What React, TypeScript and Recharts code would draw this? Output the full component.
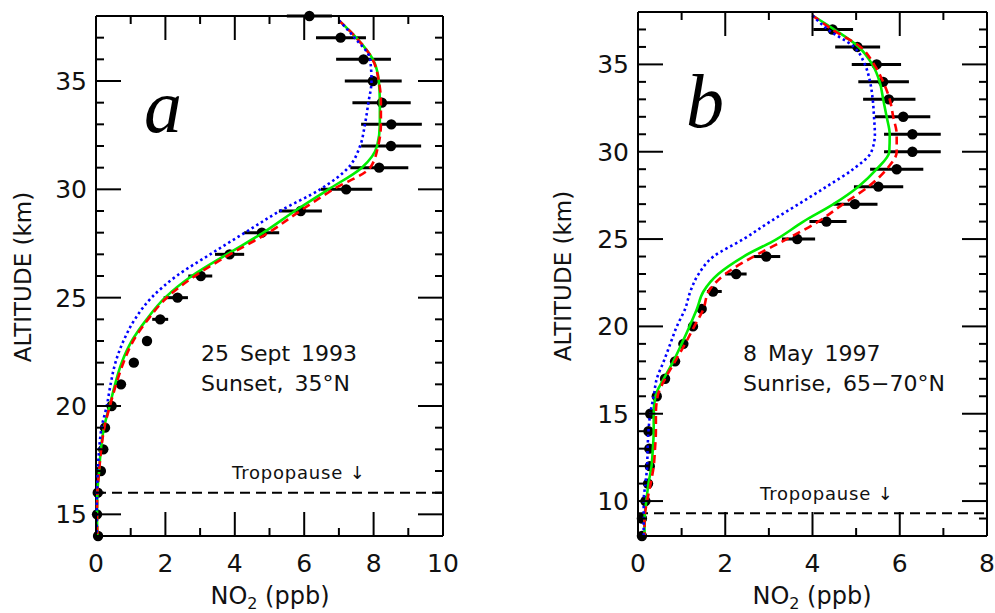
import React from 'react';
import { ScatterChart, Scatter, XAxis, YAxis, ErrorBar, ReferenceLine } from 'recharts';

// ---------------- Panel a : 25 Sept 1993, sunset 35N ----------------
const dotAltA = [14, 15, 16, 17, 18, 19, 20, 21, 22, 23, 24, 25, 26, 27, 28, 29, 30, 31, 32, 33, 34, 35, 36, 37, 38];
const dotNo2A = [0.06, 0.03, 0.05, 0.14, 0.21, 0.26, 0.45, 0.72, 1.09, 1.47, 1.85, 2.35, 3.02, 3.85, 4.78, 5.9, 7.21, 8.16, 8.5, 8.51, 8.24, 7.98, 7.71, 7.05, 6.15];
const errAltA = [24, 25, 26, 27, 28, 29, 30, 31, 32, 33, 34, 35, 36, 37, 38];
const errLoA = [1.62, 1.95, 2.66, 3.43, 4.27, 5.27, 6.48, 7.33, 7.64, 7.64, 7.39, 7.17, 6.92, 6.34, 5.5];
const errHiA = [2.08, 2.65, 3.35, 4.27, 5.28, 6.51, 7.96, 9.0, 9.37, 9.39, 9.07, 8.81, 8.5, 7.78, 6.8];

const lineAltA = [14, 15, 16, 17, 18, 19, 20, 21, 22, 23, 24, 25, 26, 27, 28, 29, 30, 31, 32, 33, 34, 35, 36, 37, 37.8];
const greenA = [0.04, 0.03, 0.04, 0.09, 0.14, 0.23, 0.39, 0.55, 0.74, 1.03, 1.46, 1.99, 2.76, 3.77, 4.82, 5.73, 6.7, 7.66, 8.1, 8.18, 8.18, 8.15, 7.98, 7.5, 7.0];
const redA = [0.04, 0.03, 0.04, 0.09, 0.15, 0.24, 0.4, 0.58, 0.79, 1.07, 1.5, 2.04, 2.85, 3.86, 4.97, 5.88, 6.84, 7.9, 8.13, 8.21, 8.21, 8.15, 7.97, 7.5, 7.0];
const blueA = [0.02, 0.02, 0.03, 0.05, 0.09, 0.16, 0.31, 0.42, 0.56, 0.79, 1.12, 1.6, 2.32, 3.29, 4.29, 5.3, 6.46, 7.27, 7.61, 7.75, 7.85, 7.94, 7.9, 7.45, 7.0];

// ---------------- Panel b : 8 May 1997, sunrise 65-70N ----------------
const dotAltB = [8, 9, 10, 11, 12, 13, 14, 15, 16, 17, 18, 19, 20, 21, 22, 23, 24, 25, 26, 27, 28, 29, 30, 31, 32, 33, 34, 35, 36, 37];
const dotNo2B = [0.09, 0.09, 0.17, 0.23, 0.27, 0.26, 0.24, 0.28, 0.43, 0.62, 0.85, 1.04, 1.26, 1.46, 1.72, 2.25, 2.94, 3.65, 4.32, 4.97, 5.51, 5.93, 6.29, 6.29, 6.08, 5.75, 5.62, 5.47, 5.03, 4.46];
const errAltB = [22, 23, 24, 25, 26, 27, 28, 29, 30, 31, 32, 33, 34, 35, 36, 37];
const errLoB = [1.58, 2.0, 2.65, 3.3, 3.93, 4.48, 4.95, 5.32, 5.64, 5.64, 5.43, 5.16, 5.05, 4.9, 4.52, 4.02];
const errHiB = [1.92, 2.49, 3.26, 4.06, 4.78, 5.49, 6.08, 6.54, 6.94, 6.94, 6.7, 6.36, 6.21, 6.03, 5.55, 4.93];

const lineAltB = [8, 9, 10, 11, 12, 13, 14, 15, 16, 17, 18, 19, 20, 21, 22, 23, 24, 25, 26, 27, 28, 29, 30, 31, 32, 33, 34, 35, 36, 37, 37.8];
const greenB = [0.15, 0.15, 0.19, 0.24, 0.31, 0.34, 0.36, 0.36, 0.4, 0.59, 0.81, 1.0, 1.18, 1.35, 1.5, 1.84, 2.42, 3.18, 3.79, 4.48, 5.05, 5.47, 5.76, 5.77, 5.7, 5.62, 5.54, 5.37, 5.06, 4.5, 4.0];
const redB = [0.15, 0.15, 0.21, 0.29, 0.36, 0.39, 0.41, 0.41, 0.45, 0.62, 0.85, 1.08, 1.29, 1.5, 1.62, 2.0, 2.65, 3.41, 4.13, 4.7, 5.28, 5.7, 5.93, 5.93, 5.85, 5.77, 5.62, 5.41, 5.1, 4.45, 4.0];
const blueB = [0.13, 0.13, 0.13, 0.17, 0.21, 0.22, 0.24, 0.28, 0.36, 0.43, 0.59, 0.74, 0.89, 1.08, 1.2, 1.39, 1.73, 2.42, 3.03, 3.68, 4.32, 4.93, 5.35, 5.43, 5.41, 5.38, 5.32, 5.2, 4.95, 4.35, 4.0];

const xTicksA = [0, 1, 2, 3, 4, 5, 6, 7, 8, 9, 10];
const yTicksA = [14, 15, 16, 17, 18, 19, 20, 21, 22, 23, 24, 25, 26, 27, 28, 29, 30, 31, 32, 33, 34, 35, 36, 37, 38];
const xTicksB = [0, 1, 2, 3, 4, 5, 6, 7, 8];
const yTicksB = [8, 9, 10, 11, 12, 13, 14, 15, 16, 17, 18, 19, 20, 21, 22, 23, 24, 25, 26, 27, 28, 29, 30, 31, 32, 33, 34, 35, 36, 37, 38];

const tropoA = 16;
const tropoB = 9.3;

const FONT = '"DejaVu Sans", "Liberation Sans", sans-serif';
const TICK_FS = 25;

function buildDots(alts: number[], vals: number[], eAlts: number[], lo: number[], hi: number[]) {
  return alts.map((a, i) => {
    const j = eAlts.indexOf(a);
    const v = vals[i];
    const err = j >= 0 ? [v - lo[j], hi[j] - v] : [0, 0];
    return { x: v, y: a, err };
  });
}

function buildLine(alts: number[], vals: number[]) {
  return alts.map((a, i) => ({ x: vals[i], y: a })).reverse();
}

type Box = { left: number; right: number; top: number; bottom: number };

const makeBottomTick = (b: Box) => (props: any) => {
  const { payload } = props;
  const x = payload.coordinate;
  const y = b.bottom;
  const v = payload.value;
  const major = v % 2 === 0;
  return (
    <g>
      <line x1={x} y1={y} x2={x} y2={y - (major ? 24 : 8)} stroke="#000" strokeWidth={2} />
      {major && (
        <text x={x} y={y + 36} textAnchor="middle" fontFamily={FONT} fontSize={TICK_FS} fill="#111">
          {v}
        </text>
      )}
    </g>
  );
};

const makeTopTick = (b: Box) => (props: any) => {
  const { payload } = props;
  const x = payload.coordinate;
  const y = b.top;
  const major = payload.value % 2 === 0;
  return <line x1={x} y1={y} x2={x} y2={y + (major ? 24 : 8)} stroke="#000" strokeWidth={2} />;
};

const makeLeftTick = (b: Box) => (props: any) => {
  const { payload } = props;
  const y = payload.coordinate;
  const x = b.left;
  const v = payload.value;
  const major = v % 5 === 0;
  return (
    <g>
      <line x1={x} y1={y} x2={x + (major ? 25 : 8)} y2={y} stroke="#000" strokeWidth={2} />
      {major && (
        <text x={x - 9} y={y + 9} textAnchor="end" fontFamily={FONT} fontSize={TICK_FS} fill="#111">
          {v}
        </text>
      )}
    </g>
  );
};

const makeRightTick = (b: Box) => (props: any) => {
  const { payload } = props;
  const y = payload.coordinate;
  const x = b.right;
  const major = payload.value % 5 === 0;
  return <line x1={x} y1={y} x2={x - (major ? 25 : 8)} y2={y} stroke="#000" strokeWidth={2} />;
};

const NoShape = () => <g />;
const DotShape = (p: any) => <circle cx={p.cx} cy={p.cy} r={5.2} fill="#000" />;

type PanelProps = {
  width: number;
  height: number;
  box: Box;
  xMax: number;
  yMin: number;
  yMax: number;
  xTicks: number[];
  yTicks: number[];
  dots: any[];
  green: any[];
  red: any[];
  blue: any[];
  tropo: number;
};

function Panel(p: PanelProps) {
  const b = p.box;
  const margin = { top: b.top - 1, right: p.width - b.right - 1, bottom: p.height - b.bottom - 1, left: 0 };
  const axisLine = { stroke: '#000', strokeWidth: 2 };
  return (
    <ScatterChart width={p.width} height={p.height} margin={margin}>
      <XAxis
        xAxisId="b"
        type="number"
        dataKey="x"
        orientation="bottom"
        domain={[0, p.xMax]}
        ticks={p.xTicks}
        interval={0}
        height={1}
        tickSize={0}
        tickMargin={0}
        tickLine={false}
        axisLine={axisLine}
        tick={makeBottomTick(b)}
      />
      <XAxis
        xAxisId="t"
        type="number"
        dataKey="x"
        orientation="top"
        domain={[0, p.xMax]}
        ticks={p.xTicks}
        interval={0}
        height={1}
        tickSize={0}
        tickMargin={0}
        tickLine={false}
        axisLine={axisLine}
        tick={makeTopTick(b)}
      />
      <YAxis
        yAxisId="l"
        type="number"
        dataKey="y"
        orientation="left"
        domain={[p.yMin, p.yMax]}
        ticks={p.yTicks}
        interval={0}
        width={b.left}
        tickSize={0}
        tickMargin={0}
        tickLine={false}
        axisLine={axisLine}
        tick={makeLeftTick(b)}
      />
      <YAxis
        yAxisId="r"
        type="number"
        dataKey="y"
        orientation="right"
        domain={[p.yMin, p.yMax]}
        ticks={p.yTicks}
        interval={0}
        width={1}
        tickSize={0}
        tickMargin={0}
        tickLine={false}
        axisLine={axisLine}
        tick={makeRightTick(b)}
      />
      <ReferenceLine xAxisId="b" yAxisId="l" y={p.tropo} stroke="#000" strokeWidth={2} strokeDasharray="10 6" />
      <Scatter xAxisId="t" yAxisId="r" data={p.dots} shape={NoShape} isAnimationActive={false} />
      <Scatter xAxisId="b" yAxisId="l" data={p.dots} shape={DotShape} isAnimationActive={false}>
        <ErrorBar dataKey="err" direction="x" width={0} stroke="#000" strokeWidth={3} />
      </Scatter>
      <Scatter
        xAxisId="b"
        yAxisId="l"
        data={p.green}
        shape={NoShape}
        line={{ stroke: '#00ee00', strokeWidth: 2.6, fill: 'none' }}
        lineJointType="monotoneY"
        isAnimationActive={false}
      />
      <Scatter
        xAxisId="b"
        yAxisId="l"
        data={p.red}
        shape={NoShape}
        line={{ stroke: '#ff0000', strokeWidth: 2.6, strokeDasharray: '8 5', fill: 'none' }}
        lineJointType="monotoneY"
        isAnimationActive={false}
      />
      <Scatter
        xAxisId="b"
        yAxisId="l"
        data={p.blue}
        shape={NoShape}
        line={{ stroke: '#0000ff', strokeWidth: 2.6, strokeDasharray: '2.5 3', fill: 'none' }}
        lineJointType="monotoneY"
        isAnimationActive={false}
      />
    </ScatterChart>
  );
}

export default function App() {
  const dotsA = buildDots(dotAltA, dotNo2A, errAltA, errLoA, errHiA);
  const dotsB = buildDots(dotAltB, dotNo2B, errAltB, errLoB, errHiB);
  const txt = { fontFamily: FONT, fill: '#111' } as const;
  return (
    <div style={{ position: 'absolute', left: 0, top: 0, width: 995, height: 613, background: '#fff', overflow: 'hidden' }}>
      <div style={{ position: 'absolute', left: 0, top: 0 }}>
        <Panel
          width={460}
          height={613}
          box={{ left: 96, right: 443, top: 16, bottom: 536 }}
          xMax={10}
          yMin={14}
          yMax={38}
          xTicks={xTicksA}
          yTicks={yTicksA}
          dots={dotsA}
          green={buildLine(lineAltA, greenA)}
          red={buildLine(lineAltA, redA)}
          blue={buildLine(lineAltA, blueA)}
          tropo={tropoA}
        />
      </div>
      <div style={{ position: 'absolute', left: 540, top: 0 }}>
        <Panel
          width={455}
          height={613}
          box={{ left: 98, right: 447, top: 12, bottom: 536 }}
          xMax={8}
          yMin={8}
          yMax={38}
          xTicks={xTicksB}
          yTicks={yTicksB}
          dots={dotsB}
          green={buildLine(lineAltB, greenB)}
          red={buildLine(lineAltB, redB)}
          blue={buildLine(lineAltB, blueB)}
          tropo={tropoB}
        />
      </div>
      <svg width={995} height={613} style={{ position: 'absolute', left: 0, top: 0, pointerEvents: 'none' }}>
        <text {...txt} fontSize={23} textAnchor="middle" transform="translate(31 277) rotate(-90)">ALTITUDE (km)</text>
        <text {...txt} fontSize={23} textAnchor="middle" transform="translate(571 276) rotate(-90)">ALTITUDE (km)</text>
        <text {...txt} fontSize={24} textAnchor="middle" x={270} y={604}>
          NO<tspan fontSize={16} dy={5}>2</tspan><tspan dy={-5}> (ppb)</tspan>
        </text>
        <text {...txt} fontSize={24} textAnchor="middle" x={812} y={604}>
          NO<tspan fontSize={16} dy={5}>2</tspan><tspan dy={-5}> (ppb)</tspan>
        </text>
        <text x={144} y={132} fontFamily='"Liberation Serif", serif' fontStyle="italic" fontSize={76} fill="#000">a</text>
        <text x={686} y={127} fontFamily='"Liberation Serif", serif' fontStyle="italic" fontSize={76} fill="#000">b</text>
        <text {...txt} fontSize={22} x={201} y={361} wordSpacing={4}>25 Sept 1993</text>
        <text {...txt} fontSize={22} x={201} y={391} wordSpacing={4}>Sunset, 35°N</text>
        <text {...txt} fontSize={22} x={743} y={361} wordSpacing={4}>8 May 1997</text>
        <text {...txt} fontSize={22} x={743} y={391} wordSpacing={4}>Sunrise, 65−70°N</text>
        <text {...txt} fontSize={18} x={232} y={479} letterSpacing={0.8}>Tropopause ↓</text>
        <text {...txt} fontSize={18} x={760} y={500} letterSpacing={0.8}>Tropopause ↓</text>
      </svg>
    </div>
  );
}
